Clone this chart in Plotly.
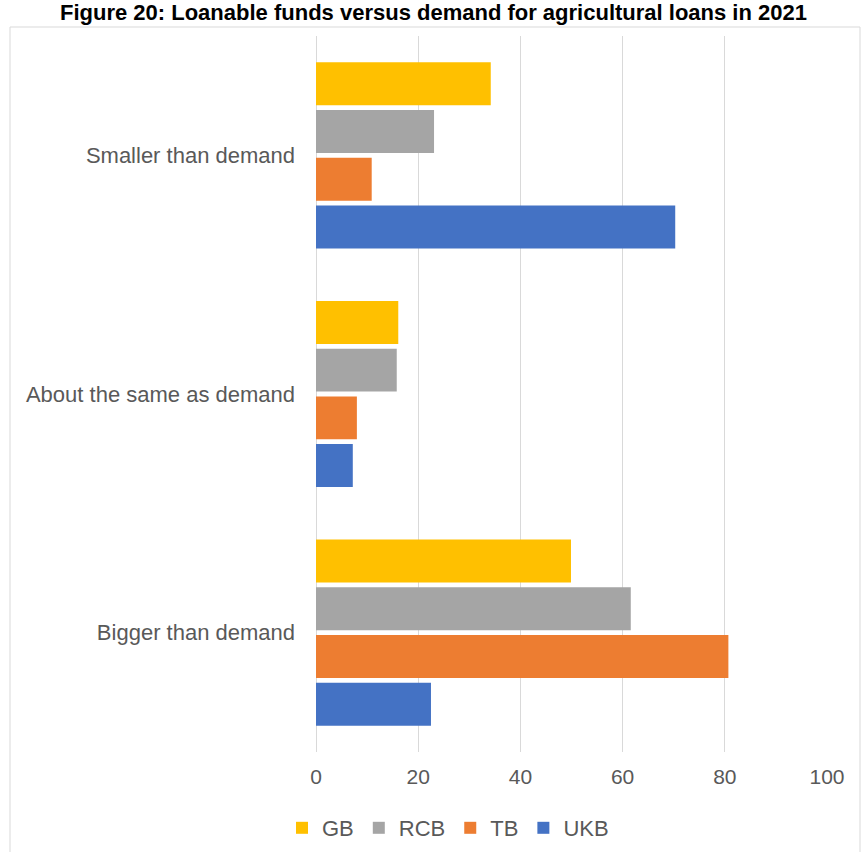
import plotly.graph_objects as go

categories = ["Smaller than demand", "About the same as demand", "Bigger than demand"]
series_names = ["GB", "RCB", "TB", "UKB"]
gb = [34.2, 16.1, 49.9]
rcb = [23.1, 15.8, 61.6]
tb = [10.9, 8.0, 80.7]
ukb = [70.3, 7.2, 22.5]
x_ticks = [0, 20, 40, 60, 80, 100]
title_text = "Figure 20: Loanable funds versus demand for agricultural loans in 2021"

colors = ["#FFC000", "#A5A5A5", "#ED7D31", "#4472C4"]
values = [gb, rcb, tb, ukb]

W, H = 861, 852
L, R, T, B = 316, 34, 36, 100
pw, ph = W - L - R, H - T - B

def px_x(p):
    return (p - L) / pw

def px_y(p):
    return 1 - (p - T) / ph

fig = go.Figure()
for name, vals, col in zip(series_names, values, colors):
    fig.add_trace(go.Bar(
        y=categories, x=vals, name=name, orientation="h",
        marker=dict(color=col, line=dict(width=0)),
    ))

fig.update_layout(
    width=W, height=H,
    margin=dict(l=L, r=R, t=T, b=B, pad=0, autoexpand=False),
    paper_bgcolor="white", plot_bgcolor="white",
    barmode="group", bargap=0.2, bargroupgap=0.1,
    font=dict(family="Liberation Sans, Arial, sans-serif", color="#595959", size=20),
    showlegend=True,
    legend=dict(orientation="h", x=px_x(448), xanchor="center",
                y=px_y(828), yanchor="middle",
                font=dict(size=22, color="#595959"),
                itemwidth=30, bgcolor="rgba(0,0,0,0)"),
    xaxis=dict(range=[0, 100], tickvals=x_ticks, showgrid=True,
               gridcolor="#D9D9D9", gridwidth=1, zeroline=True,
               zerolinecolor="#D9D9D9", zerolinewidth=1, showline=False,
               ticks="", ticklabelstandoff=10, automargin=False,
               tickfont=dict(size=21, color="#595959")),
    yaxis=dict(categoryorder="array", categoryarray=categories,
               autorange="reversed", showgrid=False, zeroline=False,
               showline=False, ticks="", ticklabelstandoff=20, automargin=False,
               tickfont=dict(size=22, color="#595959")),
    shapes=[dict(type="rect", xref="paper", yref="paper",
                 x0=px_x(10), x1=px_x(860), y0=px_y(900), y1=px_y(27),
                 line=dict(color="#D9D9D9", width=1), layer="below")],
    annotations=[dict(text="<b>" + title_text + "</b>", xref="paper", yref="paper",
                      x=px_x(433), y=px_y(13), xanchor="center", yanchor="middle",
                      showarrow=False,
                      font=dict(family="Liberation Sans, Arial, sans-serif",
                                size=22, color="#000000"))],
)

fig.write_html("out.html", config={"displayModeBar": False},
               post_script="document.body.style.margin='0';")
